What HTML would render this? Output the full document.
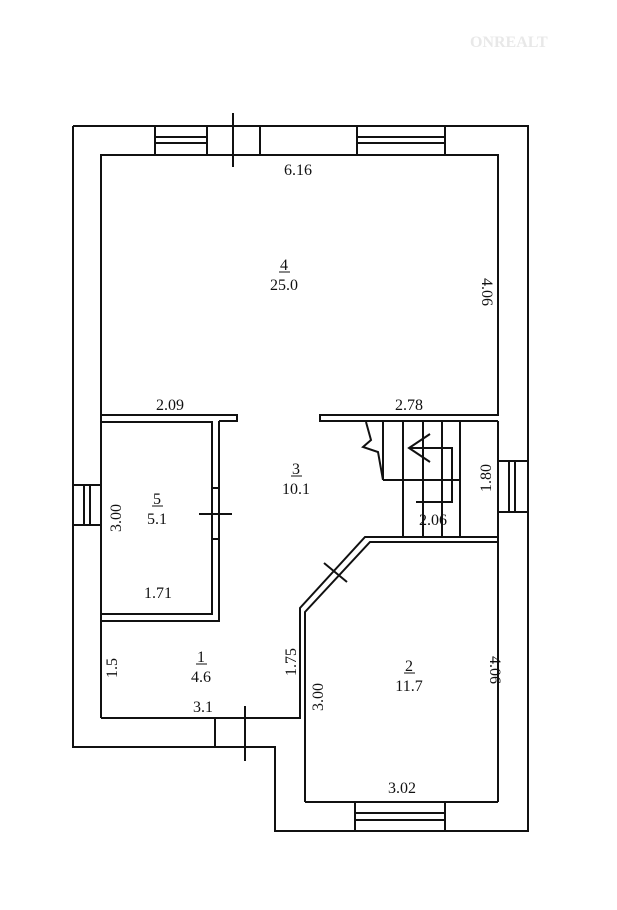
<!DOCTYPE html>
<html><head><style>body{margin:0;background:#fff}svg{display:block}text{font-family:"Liberation Serif",serif;font-size:16px;fill:#111}</style></head><body>
<svg width="617" height="910" viewBox="0 0 617 910" xmlns="http://www.w3.org/2000/svg">
<g stroke="#111" stroke-width="2" fill="none">
<polyline points="73,126 528,126 528,831 275,831 275,747 73,747 73,126"/>
<polyline points="101,415 101,155 498,155 498,415 320,415 320,421 498,421"/>
<polyline points="101,415 237,415 237,421 219,421"/>
<rect x="101" y="422" width="111" height="192"/>
<polyline points="219,421 219,621 101,621"/>
<line x1="101" y1="415" x2="101" y2="718"/>
<polyline points="101,718 300,718 300,608 365,537 498,537"/>
<polyline points="305,802 305,612 370,542 498,542"/>
<line x1="498" y1="421" x2="498" y2="802"/>
<line x1="305" y1="802" x2="498" y2="802"/>
<line x1="383" y1="421" x2="383" y2="480"/>
<line x1="403" y1="421" x2="403" y2="537"/>
<line x1="423" y1="421" x2="423" y2="537"/>
<line x1="442" y1="421" x2="442" y2="537"/>
<line x1="460" y1="421" x2="460" y2="537"/>
<line x1="383" y1="480" x2="460" y2="480"/>
<polyline points="416,502 452,502 452,448 409,448"/>
<polyline points="430,434 409,448 430,462"/>
<polyline points="366,422 371,440 363,447 378,452 383,480"/>
<rect x="155" y="126" width="52" height="29"/>
<line x1="155" y1="137" x2="207" y2="137"/><line x1="155" y1="143" x2="207" y2="143"/>
<rect x="357" y="126" width="88" height="29"/>
<line x1="357" y1="137" x2="445" y2="137"/><line x1="357" y1="143" x2="445" y2="143"/>
<rect x="73" y="485" width="28" height="40"/>
<line x1="84" y1="485" x2="84" y2="525"/><line x1="90" y1="485" x2="90" y2="525"/>
<rect x="498" y="461" width="30" height="51"/>
<line x1="509" y1="461" x2="509" y2="512"/><line x1="515" y1="461" x2="515" y2="512"/>
<rect x="355" y="802" width="90" height="29"/>
<line x1="355" y1="813" x2="445" y2="813"/><line x1="355" y1="820" x2="445" y2="820"/>
<line x1="260" y1="126" x2="260" y2="155"/>
<line x1="233" y1="113" x2="233" y2="167"/>
<line x1="212" y1="488" x2="219" y2="488"/><line x1="212" y1="539" x2="219" y2="539"/>
<line x1="199" y1="514" x2="232" y2="514"/>
<line x1="215" y1="718" x2="215" y2="747"/>
<line x1="245" y1="706" x2="245" y2="761"/>
<line x1="324" y1="563" x2="347" y2="582"/>
</g>
<text x="298" y="175" text-anchor="middle">6.16</text>
<text x="284" y="270" text-anchor="middle">4</text>
<line x1="279" y1="272" x2="290" y2="272" stroke="#111"/>
<text x="284" y="290" text-anchor="middle">25.0</text>
<text transform="translate(482,292) rotate(90)" text-anchor="middle">4.06</text>
<text x="170" y="410" text-anchor="middle">2.09</text>
<text x="409" y="410" text-anchor="middle">2.78</text>
<text x="296" y="474" text-anchor="middle">3</text>
<line x1="291" y1="476" x2="302" y2="476" stroke="#111"/>
<text x="296" y="494" text-anchor="middle">10.1</text>
<text transform="translate(491,478) rotate(-90)" text-anchor="middle">1.80</text>
<text x="433" y="525" text-anchor="middle">2.06</text>
<text x="157" y="504" text-anchor="middle">5</text>
<line x1="152" y1="506" x2="163" y2="506" stroke="#111"/>
<text x="157" y="524" text-anchor="middle">5.1</text>
<text transform="translate(121,518) rotate(-90)" text-anchor="middle">3.00</text>
<text x="158" y="598" text-anchor="middle">1.71</text>
<text x="201" y="662" text-anchor="middle">1</text>
<line x1="196" y1="664" x2="207" y2="664" stroke="#111"/>
<text x="201" y="682" text-anchor="middle">4.6</text>
<text transform="translate(117,668) rotate(-90)" text-anchor="middle">1.5</text>
<text x="203" y="712" text-anchor="middle">3.1</text>
<text transform="translate(296,662) rotate(-90)" text-anchor="middle">1.75</text>
<text transform="translate(323,697) rotate(-90)" text-anchor="middle">3.00</text>
<text x="409" y="671" text-anchor="middle">2</text>
<line x1="404" y1="673" x2="415" y2="673" stroke="#111"/>
<text x="409" y="691" text-anchor="middle">11.7</text>
<text transform="translate(490,670) rotate(90)" text-anchor="middle">4.06</text>
<text x="402" y="793" text-anchor="middle">3.02</text>
<text x="470" y="47" font-family="Liberation Sans,sans-serif" font-size="18" font-weight="bold" style="fill:#e8e8e8">ONREALT</text>
</svg>
</body></html>
